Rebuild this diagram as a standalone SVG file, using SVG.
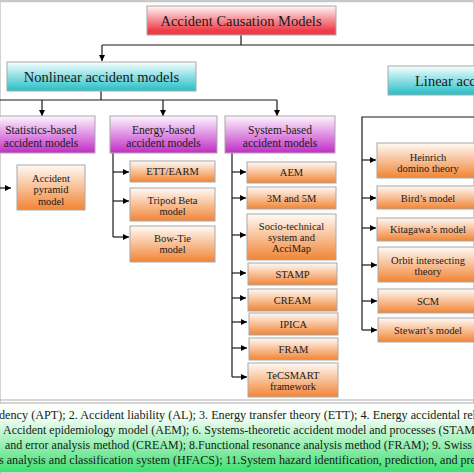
<svg xmlns="http://www.w3.org/2000/svg" width="474" height="474" viewBox="0 0 474 474">
<defs>
<linearGradient id="gRed" x1="0" y1="0" x2="0" y2="1"><stop offset="0" stop-color="#fff6f6"/><stop offset="0.85" stop-color="#ee3c48"/></linearGradient>
<linearGradient id="gCyan" x1="0" y1="0" x2="0" y2="1"><stop offset="0" stop-color="#f6ffff"/><stop offset="0.95" stop-color="#2ec2c8"/></linearGradient>
<linearGradient id="gPurple" x1="0" y1="0" x2="0" y2="1"><stop offset="0" stop-color="#fdf6ff"/><stop offset="0.95" stop-color="#c436c8"/></linearGradient>
<linearGradient id="gOrange" x1="0" y1="0" x2="0" y2="1"><stop offset="0" stop-color="#fffaf6"/><stop offset="0.95" stop-color="#f28a3e"/></linearGradient>
<linearGradient id="gGreen" x1="0" y1="0" x2="0" y2="1"><stop offset="0" stop-color="#ffffff"/><stop offset="0.2" stop-color="#f4fff6"/><stop offset="1" stop-color="#3ee070"/></linearGradient>
<marker id="arr" viewBox="0 0 10 10" refX="10" refY="5" markerWidth="8" markerHeight="6" markerUnits="userSpaceOnUse" orient="auto"><path d="M0 0 L10 5 L0 10 z" fill="#000"/></marker>
</defs>
<style>
text{font-family:"Liberation Serif","Times New Roman",serif;fill:#1a1a1a;text-anchor:middle}
.t1{font-size:14.5px}
.t2{font-size:11.5px}
.t3{font-size:10.5px}
.lg{font-size:12.6px;text-anchor:start}
rect{stroke:#a8a8a8;stroke-width:1}
.red{fill:url(#gRed)}
.cy{fill:url(#gCyan)}
.pu{fill:url(#gPurple)}
.or{fill:url(#gOrange)}
.c path{fill:none;stroke:#1a1a1a;stroke-width:1.2}
.c .a{marker-end:url(#arr)}
</style>
<rect x="0" y="0" width="474" height="474" fill="#fff" stroke="none"/>
<line x1="0" y1="1" x2="474" y2="1" stroke="#c8c8c8" stroke-width="2.5"/>

<g class="c" id="connectors">
<path d="M241 35 V45 M102 45 H474"/>
<path class="a" d="M102 45 V61"/>
<path d="M101 91 V100 M0 100 H277"/>
<path class="a" d="M42 100 V116"/>
<path class="a" d="M163 100 V116"/>
<path class="a" d="M277 100 V116"/>
<path class="a" d="M0 188 H11"/>
<path d="M113 153 V237"/>
<path class="a" d="M113 172 H129"/>
<path class="a" d="M113 201 H129"/>
<path class="a" d="M113 237 H129"/>
<path d="M232 153 V377"/>
<path class="a" d="M232 172 H246"/>
<path class="a" d="M232 198 H246"/>
<path class="a" d="M232 235 H246"/>
<path class="a" d="M232 273 H246"/>
<path class="a" d="M232 298 H246"/>
<path class="a" d="M232 322 H247"/>
<path class="a" d="M232 348 H247"/>
<path class="a" d="M232 377 H247"/>
<path d="M474 117 H362 V330"/>
<path class="a" d="M362 160 H376"/>
<path class="a" d="M362 198 H376"/>
<path class="a" d="M362 228 H376"/>
<path class="a" d="M362 265 H377"/>
<path class="a" d="M362 301 H377"/>
<path class="a" d="M362 330 H377"/>
</g>

<g id="root"><rect class="red" x="147" y="6" width="189" height="29"/><text class="t1" x="241" y="25.5">Accident Causation Models</text></g>
<g id="nonlinear"><rect class="cy" x="7" y="62" width="189" height="29"/><text class="t1" x="101.5" y="82">Nonlinear accident models</text></g>
<g id="linear"><rect class="cy" x="388" y="66" width="100" height="29"/><text class="t1" x="415" y="85.5" style="text-anchor:start">Linear accident models</text></g>

<g id="statistics"><rect class="pu" x="-14" y="116" width="109" height="37"/><text class="t2" x="41" y="133.5">Statistics-based</text><text class="t2" x="41" y="147">accident models</text></g>
<g id="energy"><rect class="pu" x="110" y="116" width="107" height="37"/><text class="t2" x="163.5" y="133.5">Energy-based</text><text class="t2" x="163.5" y="147">accident models</text></g>
<g id="system"><rect class="pu" x="225" y="116" width="110" height="37"/><text class="t2" x="280" y="133.5">System-based</text><text class="t2" x="280" y="147">accident models</text></g>

<g id="pyramid"><rect class="or" x="17" y="165" width="68" height="45"/><text class="t3" x="51" y="181.5">Accident</text><text class="t3" x="51" y="193">pyramid</text><text class="t3" x="51" y="204.5">model</text></g>

<g id="ett"><rect class="or" x="130" y="161" width="85" height="21"/><text class="t3" x="172.5" y="175">ETT/EARM</text></g>
<g id="tripod"><rect class="or" x="130" y="188" width="85" height="33"/><text class="t3" x="172.5" y="203.5">Tripod Beta</text><text class="t3" x="172.5" y="215">model</text></g>
<g id="bowtie"><rect class="or" x="130" y="226" width="85" height="36"/><text class="t3" x="172.5" y="241.5">Bow-Tie</text><text class="t3" x="172.5" y="252.5">model</text></g>

<g id="aem"><rect class="or" x="247" y="162" width="89" height="21"/><text class="t3" x="291.5" y="176">AEM</text></g>
<g id="m35"><rect class="or" x="247" y="187" width="89" height="22"/><text class="t3" x="291.5" y="201.5">3M and 5M</text></g>
<g id="socio"><rect class="or" x="247" y="214" width="89" height="46"/><text class="t3" x="291.5" y="230">Socio-technical</text><text class="t3" x="291.5" y="241">system and</text><text class="t3" x="291.5" y="252">AcciMap</text></g>
<g id="stamp"><rect class="or" x="248" y="263" width="89" height="22"/><text class="t3" x="292.5" y="277.5">STAMP</text></g>
<g id="cream"><rect class="or" x="248" y="289" width="89" height="22"/><text class="t3" x="292.5" y="303.5">CREAM</text></g>
<g id="ipica"><rect class="or" x="249" y="313" width="89" height="22"/><text class="t3" x="293.5" y="327.5">IPICA</text></g>
<g id="fram"><rect class="or" x="249" y="338" width="89" height="22"/><text class="t3" x="293.5" y="352.5">FRAM</text></g>
<g id="tecsmart"><rect class="or" x="248" y="363" width="90" height="34"/><text class="t3" x="293" y="378.5">TeCSMART</text><text class="t3" x="293" y="389.5">framework</text></g>

<g id="heinrich"><rect class="or" x="377" y="143" width="102" height="35"/><text class="t3" x="428" y="160.5">Heinrich</text><text class="t3" x="428" y="171.5">domino theory</text></g>
<g id="bird"><rect class="or" x="377" y="186" width="102" height="23"/><text class="t3" x="428" y="201.5">Bird’s model</text></g>
<g id="kitagawa"><rect class="or" x="377" y="218" width="102" height="23"/><text class="t3" x="428" y="232.5">Kitagawa’s model</text></g>
<g id="orbit"><rect class="or" x="378" y="247" width="102" height="35"/><text class="t3" x="428" y="263.5">Orbit intersecting</text><text class="t3" x="428" y="275">theory</text></g>
<g id="scm"><rect class="or" x="378" y="289" width="102" height="24"/><text class="t3" x="428" y="304.5">SCM</text></g>
<g id="stewart"><rect class="or" x="378" y="318" width="102" height="24"/><text class="t3" x="428" y="333.5">Stewart’s model</text></g>

<g id="legend">
<line x1="0" y1="400" x2="474" y2="400" stroke="#b0b0b0" stroke-width="1.2"/>
<rect x="-2" y="403" width="478" height="69" fill="url(#gGreen)" stroke="#2fb85a" stroke-width="1.2"/>
<text class="lg" x="-1" y="419" textLength="477" lengthAdjust="spacingAndGlyphs">dency (APT); 2. Accident liability (AL); 3. Energy transfer theory (ETT); 4. Energy accidental rel</text>
<text class="lg" x="3" y="434" textLength="472" lengthAdjust="spacingAndGlyphs">Accident epidemiology model (AEM); 6. Systems-theoretic accident model and processes (STAM</text>
<text class="lg" x="5" y="449" textLength="467" lengthAdjust="spacingAndGlyphs">and error analysis method (CREAM); 8.Functional resonance analysis method (FRAM); 9. Swiss</text>
<text class="lg" x="-1" y="464" textLength="477" lengthAdjust="spacingAndGlyphs">s analysis and classification system (HFACS); 11.System hazard identification, prediction, and pre</text>
</g>
</svg>
